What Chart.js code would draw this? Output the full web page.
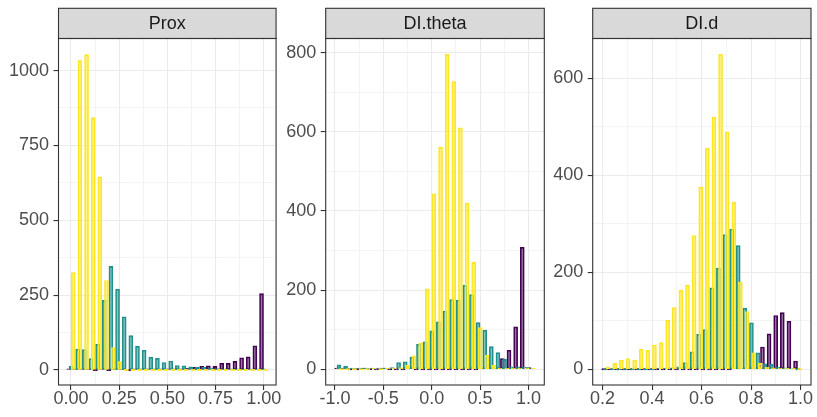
<!DOCTYPE html>
<html>
<head>
<meta charset="utf-8">
<script src="https://cdn.jsdelivr.net/npm/chart.js@4.4.1/dist/chart.umd.min.js"></script>
<style>
  html, body { margin: 0; padding: 0; background: #fff; }
  #wrap { position: relative; width: 817px; height: 417px; }
  canvas { position: absolute; top: 0; }
</style>
</head>
<body>
<div id="wrap">
  <canvas id="prox" width="282" height="417" style="left:0px"></canvas>
  <canvas id="theta" width="267" height="417" style="left:282px"></canvas>
  <canvas id="dist" width="268" height="417" style="left:549px"></canvas>
</div>
<script>
// ---------- data: bin centres and counts per group ----------

var proxBins = [0, 0.0345, 0.069, 0.1034, 0.1379, 0.1724, 0.2069, 0.2414, 0.2759, 0.3103,
                0.3448, 0.3793, 0.4138, 0.4483, 0.4828, 0.5172, 0.5517, 0.5862, 0.6207, 0.6552,
                0.6897, 0.7241, 0.7586, 0.7931, 0.8276, 0.8621, 0.8966, 0.931, 0.9655, 1];
var proxYellow = [325, 1033, 1053, 843, 645, 299, 75, 28, 0, 0, 0, 0, 0, 0, 0, 0, 0, 0, 0, 0, 0, 0, 0, 0, 0, 0, 0, 0, 0, 0];
var proxTeal   = [12, 70, 68, 38, 86, 233, 346, 270, 178, 115, 80, 66, 43, 39, 25, 30, 15, 14, 11, 10, 9, 7, 5, 4, 3, 3, 2, 1, 1, 1];
var proxPurple = [3, 1, 1, 1, 0, 1, 0, 1, 1, 0, 1, 1, 1, 1, 2, 2, 3, 4, 6, 9, 12, 14, 12, 22, 22, 29, 41, 44, 81, 255];

var thetaBins = [-0.959, -0.8905, -0.822, -0.7535, -0.685, -0.6165, -0.548, -0.4795, -0.411, -0.3425,
                 -0.274, -0.2055, -0.137, -0.0685, 0, 0.0685, 0.137, 0.2055, 0.274, 0.3425,
                 0.411, 0.4795, 0.548, 0.6165, 0.685, 0.7535, 0.822, 0.8905, 0.959, 1.0275];
var thetaYellow = [0, 0, 0, 0, 0, 1, 0, 1, 2, 4, 10, 34, 67, 203, 443, 561, 796, 727, 610, 420, 270, 105, 35, 10, 3, 2, 1, 1, 1, 1];
var thetaTeal   = [11, 8, 1, 1, 2, 3, 2, 1, 4, 17, 19, 31, 63, 69, 97, 120, 147, 176, 175, 212, 189, 118, 99, 57, 42, 25, 6, 6, 5, 2];
var thetaPurple = [2, 1, 0, 0, 1, 0, 0, 1, 0, 0, 0, 1, 0, 0, 0, 0, 0, 0, 0, 0, 0, 0, 1, 3, 3, 27, 48, 107, 308, 4];

var distBins = [0.2135, 0.2402, 0.2669, 0.2937, 0.3204, 0.3471, 0.3738, 0.4005, 0.4273, 0.454,
                0.4807, 0.5074, 0.5341, 0.5609, 0.5876, 0.6143, 0.641, 0.6677, 0.6945, 0.7212,
                0.7479, 0.7746, 0.8013, 0.8281, 0.8548, 0.8815, 0.9082, 0.9349, 0.9617, 0.9884];
var distYellow = [5, 12, 19, 22, 19, 41, 39, 50, 55, 101, 127, 163, 173, 276, 376, 456, 520, 650, 490, 345, 180, 119, 34, 12, 4, 3, 2, 1, 1, 0];
var distTeal   = [0, 0, 0, 0, 0, 0, 0, 0, 1, 2, 3, 5, 14, 36, 72, 82, 168, 209, 278, 289, 255, 126, 96, 34, 11, 10, 4, 3, 1, 0];
var distPurple = [0, 0, 0, 0, 0, 0, 0, 0, 0, 0, 0, 0, 0, 0, 0, 0, 0, 0, 0, 0, 1, 1, 2, 3, 46, 73, 111, 117, 99, 17];

// axis ticks (major with labels, minor as light grid only)
var proxXTicks = [0, 0.25, 0.5, 0.75, 1];
var proxXLabels = ['0.00', '0.25', '0.50', '0.75', '1.00'];
var proxXMinor = [0.125, 0.375, 0.625, 0.875];
var proxYTicks = [0, 250, 500, 750, 1000];
var proxYMinor = [125, 375, 625, 875];

var thetaXTicks = [-1, -0.5, 0, 0.5, 1];
var thetaXLabels = ['-1.0', '-0.5', '0.0', '0.5', '1.0'];
var thetaXMinor = [-0.75, -0.25, 0.25, 0.75];
var thetaYTicks = [0, 200, 400, 600, 800];
var thetaYMinor = [100, 300, 500, 700];

var distXTicks = [0.2, 0.4, 0.6, 0.8, 1];
var distXLabels = ['0.2', '0.4', '0.6', '0.8', '1.0'];
var distXMinor = [0.3, 0.5, 0.7, 0.9];
var distYTicks = [0, 200, 400, 600];
var distYMinor = [100, 300, 500];

// ---------- drawing ----------

Chart.defaults.font.family = '"Liberation Sans", Arial, Helvetica, sans-serif';
Chart.defaults.font.size = 18;
Chart.defaults.color = '#4D4D4D';
Chart.defaults.animation = false;

// grey facet strip on top + dark panel frame
var stripPlugin = {
    id: 'strip',
    afterDraw: function (chart, args, opts) {
        var ctx = chart.ctx, a = chart.chartArea;
        var top = 8.3;
        ctx.save();
        ctx.fillStyle = '#D9D9D9';
        ctx.fillRect(a.left, top, a.right - a.left, a.top - top);
        ctx.strokeStyle = '#333333';
        ctx.lineWidth = 1.1;
        ctx.strokeRect(a.left, top, a.right - a.left, a.top - top);
        ctx.strokeRect(a.left, a.top, a.right - a.left, a.bottom - a.top);
        ctx.fillStyle = '#1A1A1A';
        ctx.font = '18px "Liberation Sans", Arial, sans-serif';
        ctx.textAlign = 'center';
        ctx.textBaseline = 'middle';
        ctx.fillText(opts.text, (a.left + a.right) / 2, (top + a.top) / 2 + 0.5);
        ctx.restore();
    }
};

function axis(min, max, majors, labels, minors, extra) {
    var isMajor = function (ctx) { return ctx.tick && majors.indexOf(ctx.tick.value) >= 0; };
    return Object.assign({
        type: 'linear',
        min: min,
        max: max,
        offset: false,
        afterBuildTicks: function (scale) {
            scale.ticks = majors.concat(minors)
                .sort(function (a, b) { return a - b; })
                .map(function (v) { return { value: v }; });
        },
        ticks: {
            autoSkip: false,
            maxRotation: 0,
            color: '#4D4D4D',
            callback: function (v) {
                var i = majors.indexOf(v);
                return i >= 0 ? labels[i] : '';
            }
        },
        grid: {
            offset: false,
            color: '#EBEBEB',
            lineWidth: function (ctx) { return isMajor(ctx) ? 1.1 : 0.55; },
            tickLength: 5,
            tickWidth: 1.1,
            tickColor: function (ctx) { return isMajor(ctx) ? '#333333' : 'rgba(0,0,0,0)'; }
        },
        border: { display: false }
    }, extra);
}

function makePanel(id, p) {
    var step = p.bins[1] - p.bins[0];
    // ggplot dodge: purple left, teal centre, yellow right (yellow drawn on top)
    var series = [
        { data: p.yellow, fill: 'rgba(253,231,37,0.55)', edge: '#FDE725', shift: 1 },
        { data: p.teal,   fill: 'rgba(33,144,140,0.55)', edge: '#21908C', shift: 0 },
        { data: p.purple, fill: 'rgba(68,1,84,0.55)',    edge: '#440154', shift: -1 }
    ];
    var datasets = series.map(function (s) {
        return {
            data: p.bins.map(function (b, i) { return { x: b + s.shift * step / 3, y: s.data[i] }; }),
            backgroundColor: s.fill,
            borderColor: s.edge,
            borderWidth: 1,
            borderSkipped: false,
            barThickness: 4,
            minBarLength: 1.2,
            grouped: false
        };
    });

    var xAxis = axis(p.xMin, p.xMax, p.xTicks, p.xLabels, p.xMinor, {
        afterFit: function (scale) { scale.height = 32; }
    });
    xAxis.ticks.padding = 0.5;
    xAxis.ticks.font = { lineHeight: 1 };

    var yAxis = axis(p.yMin, p.yMax, p.yTicks, p.yTicks.map(String), p.yMinor, {
        afterFit: function (scale) { scale.width = p.axisWidth; }
    });
    yAxis.ticks.padding = 4.5;

    new Chart(document.getElementById(id), {
        type: 'bar',
        data: { datasets: datasets },
        options: {
            responsive: false,
            devicePixelRatio: 1,
            layout: { padding: { top: 38.5, right: p.rightPad, left: 0, bottom: 0 } },
            plugins: {
                legend: { display: false },
                tooltip: { enabled: false },
                strip: { text: p.title }
            },
            scales: { x: xAxis, y: yAxis }
        },
        plugins: [stripPlugin]
    });
}

makePanel('prox', {
    title: 'Prox', bins: proxBins, yellow: proxYellow, teal: proxTeal, purple: proxPurple,
    xMin: -0.065, xMax: 1.064, xTicks: proxXTicks, xLabels: proxXLabels, xMinor: proxXMinor,
    yMin: -50, yMax: 1107, yTicks: proxYTicks, yMinor: proxYMinor,
    axisWidth: 58.5, rightPad: 4.3
});

makePanel('theta', {
    title: 'DI.theta', bins: thetaBins, yellow: thetaYellow, teal: thetaTeal, purple: thetaPurple,
    xMin: -1.096, xMax: 1.164, xTicks: thetaXTicks, xLabels: thetaXLabels, xMinor: thetaXMinor,
    yMin: -39.8, yMax: 835.8, yTicks: thetaYTicks, yMinor: thetaYMinor,
    axisWidth: 43.7, rightPad: 4.7
});

makePanel('dist', {
    title: 'DI.d', bins: distBins, yellow: distYellow, teal: distTeal, purple: distPurple,
    xMin: 0.16, xMax: 1.042, xTicks: distXTicks, xLabels: distXLabels, xMinor: distXMinor,
    yMin: -32.5, yMax: 682.5, yTicks: distYTicks, yMinor: distYMinor,
    axisWidth: 43.7, rightPad: 6
});
</script>
</body>
</html>
